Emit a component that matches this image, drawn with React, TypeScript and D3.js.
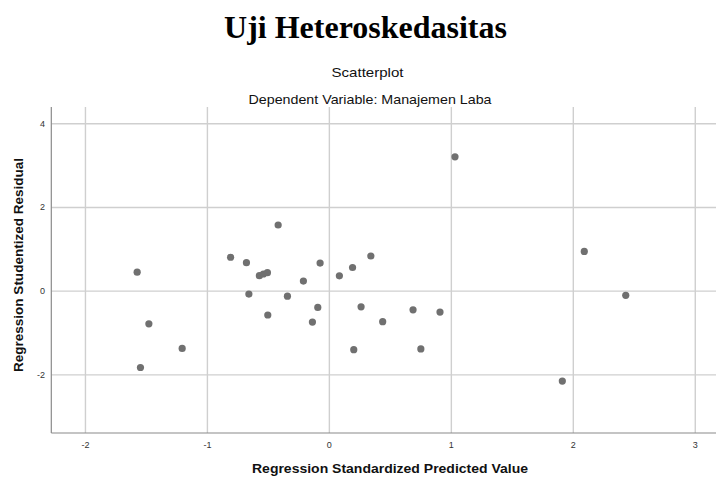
import React from "react";
import * as d3 from "d3";

// predicted (x) and studentized residual (y)
const predicted = [
  1.03, 2.09, 0.34, 2.43, 1.91, 0.26, 0.686, 0.907, 0.437, 0.75,
  -1.576, -1.48, -1.207, -1.549, -0.42, -0.81, -0.68, -0.574, -0.541, -0.508,
  -0.076, -0.213, 0.082, 0.19, -0.66, -0.344, -0.505, -0.095, -0.139, 0.2,
];
const residual = [
  3.21, 0.95, 0.84, -0.1, -2.15, -0.375, -0.447, -0.5, -0.73, -1.38,
  0.454, -0.78, -1.37, -1.825, 1.58, 0.81, 0.68, 0.37, 0.41, 0.44,
  0.67, 0.24, 0.366, 0.565, -0.07, -0.12, -0.57, -0.39, -0.74, -1.4,
];
const xTicks = [-2, -1, 0, 1, 2, 3];
const yTicks = [-2, 0, 2, 4];

const title = "Uji Heteroskedasitas";
const subTitle = "Scatterplot";
const depVar = "Dependent Variable: Manajemen Laba";
const xLabel = "Regression Standardized Predicted Value";
const yLabel = "Regression Studentized Residual";

const W = 716;
const H = 477;
const plot = { left: 51.3, right: 716, top: 107, bottom: 433 };

export default function App() {
  const x = d3.scaleLinear().domain([-2.28, 3.17]).range([plot.left, plot.right]);
  const y = d3.scaleLinear().domain([-3.39, 4.4]).range([plot.bottom, plot.top]);
  const sans = "'Liberation Sans', Arial, sans-serif";

  return (
    <div style={{ position: "absolute", left: 0, top: 0 }}>
      <svg width={W} height={H} style={{ display: "block", background: "#fff" }}>
        <text
          x={365.5}
          y={38}
          textAnchor="middle"
          fontFamily="'Liberation Serif', 'Times New Roman', serif"
          fontWeight="bold"
          fontSize="32"
          fill="#000"
        >
          {title}
        </text>
        <text
          x={367.5}
          y={77}
          textAnchor="middle"
          fontFamily={sans}
          fontSize="13"
          fill="#111"
          textLength={72}
          lengthAdjust="spacingAndGlyphs"
        >
          {subTitle}
        </text>
        <text
          x={370}
          y={104}
          textAnchor="middle"
          fontFamily={sans}
          fontSize="13"
          fill="#111"
          textLength={243}
          lengthAdjust="spacingAndGlyphs"
        >
          {depVar}
        </text>

        {/* grid */}
        {xTicks.map((t) => (
          <line
            key={"gx" + t}
            x1={x(t)}
            x2={x(t)}
            y1={plot.top}
            y2={plot.bottom}
            stroke="#cfcfcf"
            strokeWidth={1.4}
          />
        ))}
        {yTicks.map((t) => (
          <line
            key={"gy" + t}
            x1={plot.left}
            x2={plot.right}
            y1={y(t)}
            y2={y(t)}
            stroke="#cfcfcf"
            strokeWidth={1.4}
          />
        ))}

        {/* axes */}
        <line x1={plot.left} x2={plot.left} y1={plot.top} y2={plot.bottom} stroke="#8a8a8a" strokeWidth={1.2} />
        <line x1={plot.left} x2={plot.right} y1={plot.bottom} y2={plot.bottom} stroke="#8a8a8a" strokeWidth={1.2} />

        {xTicks.map((t) => (
          <text
            key={"tx" + t}
            x={x(t)}
            y={448}
            textAnchor="middle"
            fontFamily={sans}
            fontSize="9"
            fill="#333"
          >
            {t}
          </text>
        ))}
        {yTicks.map((t) => (
          <text
            key={"ty" + t}
            x={45}
            y={y(t) + 3}
            textAnchor="end"
            fontFamily={sans}
            fontSize="9"
            fill="#333"
          >
            {t}
          </text>
        ))}

        <text
          x={390}
          y={473}
          textAnchor="middle"
          fontFamily={sans}
          fontWeight="bold"
          fontSize="13"
          fill="#111"
          textLength={276}
          lengthAdjust="spacingAndGlyphs"
        >
          {xLabel}
        </text>
        <text
          transform="translate(23,265) rotate(-90)"
          textAnchor="middle"
          fontFamily={sans}
          fontWeight="bold"
          fontSize="12.5"
          fill="#111"
          textLength={214}
          lengthAdjust="spacingAndGlyphs"
        >
          {yLabel}
        </text>

        {predicted.map((p, i) => (
          <circle key={i} cx={x(p)} cy={y(residual[i])} r={3.6} fill="#707070" />
        ))}
      </svg>
    </div>
  );
}
